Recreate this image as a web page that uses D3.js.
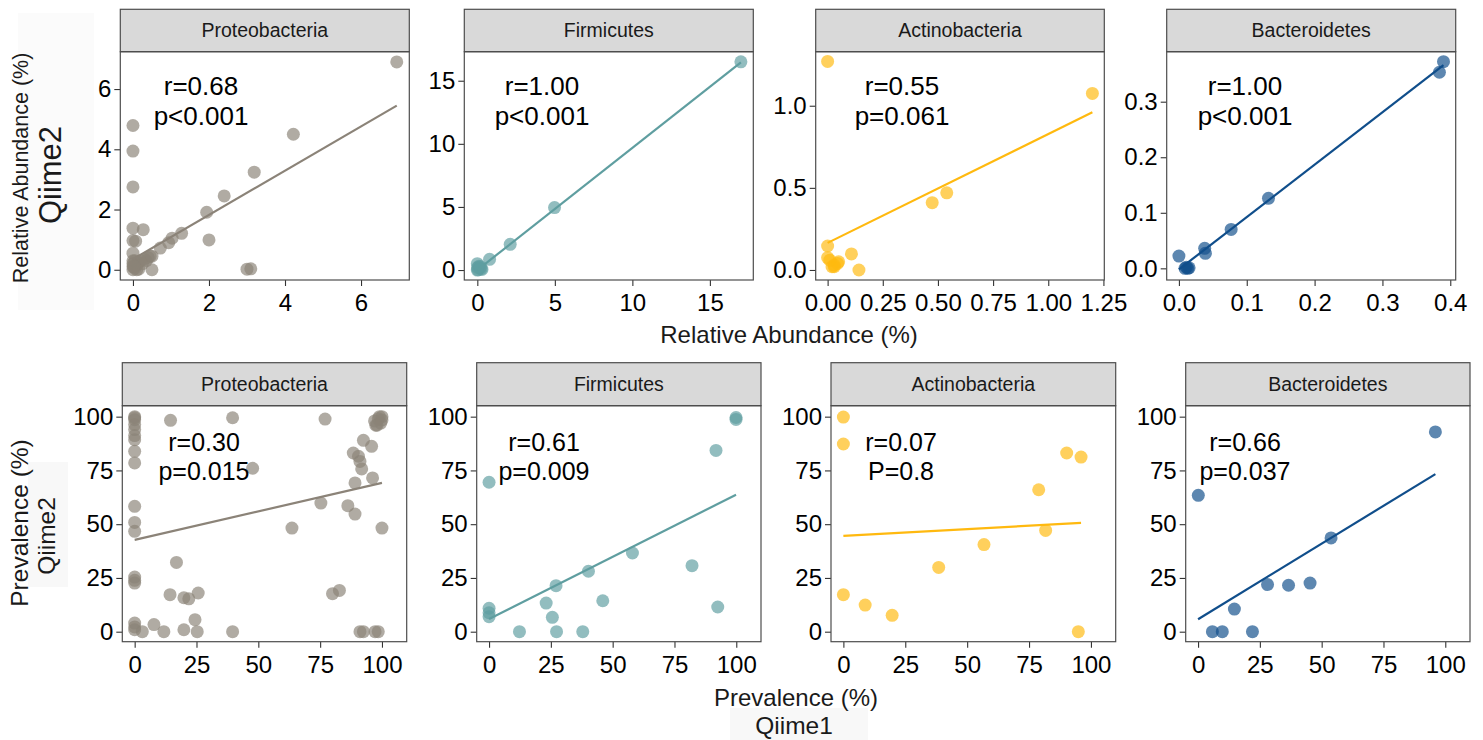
<!DOCTYPE html>
<html>
<head>
<meta charset="utf-8">
<script src="https://cdn.jsdelivr.net/npm/d3@7"></script>
<style>
  body { margin: 0; background: #fff; }
  svg { font-family: "Liberation Sans", Arial, sans-serif; }
</style>
</head>
<body>
<svg id="chart" width="1483" height="740"></svg>
<script>

var phyla = ["Proteobacteria", "Firmicutes", "Actinobacteria", "Bacteroidetes"];
var phylumColors = ["#8B8378", "#5F9EA0", "#FFB90F", "#104E8B"];

// Relative abundance (%): Qiime1 on x, Qiime2 on y
var proteoAbundX = [6.94, 4.22, 3.19, 2.4, 1.94, 2.0, 3.0, 3.1, 1.28, 1.03, 0.94, 0.72, 0.27, 0, 0, 0, 0, 0, 0.07, 0, 0.5,
  0, 0, 0, 0, 0.05, 0.1, 0.15, 0.2, 0.3, 0.4, 0.45, 0.1, 0.15, 0.05, 0.25, 0.02, 0.35, 0.5];
var proteoAbundY = [6.9, 4.5, 3.24, 2.45, 1.91, 0.99, 0.02, 0.03, 1.21, 1.05, 0.9, 0.72, 1.33, 4.79, 3.94, 2.75, 1.38, 0.97, 0.95, 0.55, 0,
  0, 0.1, 0.2, 0.3, 0.05, 0.15, 0.25, 0.3, 0.35, 0.4, 0.45, 0, 0.02, 0.3, 0.2, 0.12, 0.3, 0.45];
var firmAbundX = [17.0, 4.98, 2.12, 0.79, 0, 0.25, 0, 0.1, 0.3, 0.05, 0.15, 0.02, 0.2];
var firmAbundY = [16.5, 4.95, 2.04, 0.85, 0.5, 0.1, 0, 0.3, 0.05, 0.02, 0.15, 0.2, 0.25];
var actinoAbundX = [0, 1.2, 0.54, 0.474, 0, 0, 0.108, 0.142, 0.02, 0.03, 0.05, 0.03, 0.045, 0.01];
var actinoAbundY = [1.27, 1.075, 0.47, 0.41, 0.146, 0.075, 0.098, 0, 0.02, 0.02, 0.05, 0.03, 0.04, 0.06];
var bactAbundX = [0.39, 0.384, 0.132, 0.077, 0.038, 0.039, 0, 0.009, 0.013, 0.015, 0.011];
var bactAbundY = [0.372, 0.353, 0.126, 0.07, 0.036, 0.027, 0.022, 0, 0, 0.001, 0.002];

// fitted lines [x0, y0, x1, y1]
var abundFits = [[0, 0.35, 6.94, 5.45], [0, 0, 17.0, 16.45], [0, 0.165, 1.2, 0.96], [0, -0.002, 0.39, 0.366]];
var abundR = ["r=0.68", "r=1.00", "r=0.55", "r=1.00"];
var abundP = ["p<0.001", "p<0.001", "p=0.061", "p<0.001"];
var abundXTicks = [[0, 2, 4, 6], [0, 5, 10, 15], [0, 0.25, 0.5, 0.75, 1.0, 1.25], [0, 0.1, 0.2, 0.3, 0.4]];
var abundYTicks = [[0, 2, 4, 6], [0, 5, 10, 15], [0, 0.5, 1.0], [0, 0.1, 0.2, 0.3]];

// Prevalence (%): Qiime1 on x, Qiime2 on y
var proteoPrevX = [0, 0, 0, 0, 0, 0, 0, 0, 0, 0, 0, 0, 0, 0, 0, 0, 0, 0,
  3.1, 7.8, 11.8, 14.5, 14.3, 16.9, 19.9, 21.9, 19.9, 25.7, 24.4, 25.3, 39.6, 39.6, 47.7, 63.6, 75.3, 77,
  80, 82.8, 86.2, 88.4, 89.1, 89.1, 90.5, 91.1, 91.8, 92.5, 95.8, 96.2, 91.1, 92.5, 97.2, 98.5, 100,
  97, 98, 99, 100, 99.5, 98.5, 100, 97.5];
var proteoPrevY = [100, 98.6, 96.3, 94, 91.2, 89.3, 83.9, 78.5, 58.3, 50.8, 46.7, 25.4, 23.9, 22.6, 4.0, 2.2, 0.9, 99.5,
  0, 3.3, 0, 98.3, 17.2, 32.2, 15.8, 15.3, 0.9, 18, 5.6, 0, 0, 99.5, 76, 48.2, 59.8, 98.9,
  17.7, 19.2, 58.6, 83.1, 69.2, 54.7, 81.6, 79.2, 75.7, 89, 86.2, 71.5, 0, 0, 0, 0, 48.2,
  98, 96, 100, 100, 97, 99, 98.5, 96];
var firmPrevX = [99.9, 99.9, 91.8, 82.1, 92.5, 0, 0, 0, 0, 12.3, 23.1, 27.1, 25.6, 27.3, 37.9, 40.2, 46, 58];
var firmPrevY = [99.6, 98.7, 84.3, 30.7, 11.5, 69.5, 10.9, 7.0, 8.8, 0, 13.3, 21.4, 6.7, 0, 0, 28.1, 14.4, 36.6];
var actinoPrevX = [0, 0, 0, 8.8, 19.7, 38.5, 56.8, 78.9, 81.7, 90.2, 96, 94.9];
var actinoPrevY = [99.8, 87.3, 17.2, 12.4, 7.6, 29.9, 40.5, 66, 47.1, 83.1, 81.2, 0];
var bactPrevX = [96, 0.1, 53.8, 45.3, 36.6, 28.1, 14.7, 5.8, 9.8, 22];
var bactPrevY = [92.9, 63.4, 43.6, 22.6, 21.6, 21.9, 10.5, 0, 0, 0];

var prevFits = [[0, 42.7, 100, 69.2], [0, 5.9, 99.9, 63.7], [0, 44.6, 96, 50.6], [0, 5.8, 96, 73.3]];
var prevR = ["r=0.30", "r=0.61", "r=0.07", "r=0.66"];
var prevP = ["p=0.015", "p=0.009", "P=0.8", "p=0.037"];
var prevTicks = [0, 25, 50, 75, 100];

var svg = d3.select("#chart");

// faint boxes behind the Qiime labels
svg.append("rect").attr("x", 18).attr("y", 13).attr("width", 76).attr("height", 297).attr("fill", "#fbfbfb");
svg.append("rect").attr("x", 28).attr("y", 462).attr("width", 40).attr("height", 125).attr("fill", "#f8f8f8");
svg.append("rect").attr("x", 730).attr("y", 708).attr("width", 138).attr("height", 32).attr("fill", "#f8f8f8");

function drawPanel(p) {
  var g = svg.append("g");

  var x = d3.scaleLinear().domain(p.xDom).range([p.left, p.right]);
  var y = d3.scaleLinear().domain(p.yDom).range([p.bottom, p.top]);

  // strip
  g.append("rect")
      .attr("x", p.left)
      .attr("y", p.stripTop)
      .attr("width", p.right - p.left)
      .attr("height", p.top - p.stripTop)
      .attr("fill", "#d9d9d9")
      .attr("stroke", "#4d4d4d")
      .attr("stroke-width", 1.2);

  g.append("text")
      .attr("x", (p.left + p.right) / 2)
      .attr("y", (p.stripTop + p.top) / 2)
      .attr("dy", "0.35em")
      .attr("text-anchor", "middle")
      .attr("fill", "#1a1a1a")
      .style("font-size", "19.5px")
      .text(p.name);

  var xAxis = g.append("g")
      .attr("transform", "translate(0," + p.bottom + ")")
      .call(d3.axisBottom(x).tickValues(p.xTicks).tickFormat(p.xFmt).tickSize(6).tickSizeOuter(0).tickPadding(8));

  var yAxis = g.append("g")
      .attr("transform", "translate(" + p.left + ",0)")
      .call(d3.axisLeft(y).tickValues(p.yTicks).tickFormat(p.yFmt).tickSize(6).tickSizeOuter(0).tickPadding(3));

  [xAxis, yAxis].forEach(function(a) {
    a.select(".domain").remove();
    a.selectAll(".tick line").attr("stroke", "#333").attr("stroke-width", 1.1);
    a.selectAll(".tick text").attr("fill", "#000").style("font-size", "24px");
  });

  // points
  g.selectAll("circle")
    .data(d3.zip(p.xs, p.ys))
    .enter().append("circle")
      .attr("cx", function(d) { return x(d[0]); })
      .attr("cy", function(d) { return y(d[1]); })
      .attr("r", 6.5)
      .attr("fill", p.color)
      .attr("fill-opacity", 0.68);

  // fitted line
  g.append("line")
      .attr("x1", x(p.fit[0]))
      .attr("y1", y(p.fit[1]))
      .attr("x2", x(p.fit[2]))
      .attr("y2", y(p.fit[3]))
      .attr("stroke", p.color)
      .attr("stroke-width", 2.2);

  // panel border
  g.append("rect")
      .attr("x", p.left)
      .attr("y", p.top)
      .attr("width", p.right - p.left)
      .attr("height", p.bottom - p.top)
      .attr("fill", "none")
      .attr("stroke", "#4d4d4d")
      .attr("stroke-width", 1.2);

  // r and p text
  g.append("text")
      .attr("x", p.labelX)
      .attr("y", p.rY)
      .attr("text-anchor", "middle")
      .attr("fill", "#000")
      .style("font-size", p.labelSize + "px")
      .text(p.r);

  g.append("text")
      .attr("x", p.labelX)
      .attr("y", p.pY)
      .attr("text-anchor", "middle")
      .attr("fill", "#000")
      .style("font-size", p.labelSize + "px")
      .text(p.p);
}

var fmtInt = d3.format("d");
var topLayout = [
  {left: 120.3, right: 409.3, xDom: [-0.333, 7.27], yDom: [-0.34, 7.24], labelX: 201, xFmt: fmtInt, yFmt: fmtInt},
  {left: 464.3, right: 753.3, xDom: [-0.84, 17.8], yDom: [-0.79, 17.3], labelX: 542, xFmt: fmtInt, yFmt: fmtInt},
  {left: 815.7, right: 1104.3, xDom: [-0.054, 1.254], yDom: [-0.061, 1.329], labelX: 902, xFmt: d3.format(".2f"), yFmt: d3.format(".1f")},
  {left: 1166.7, right: 1455.7, xDom: [-0.018, 0.408], yDom: [-0.021, 0.39], labelX: 1245, xFmt: d3.format(".1f"), yFmt: d3.format(".1f")}
];
var topXs = [proteoAbundX, firmAbundX, actinoAbundX, bactAbundX];
var topYs = [proteoAbundY, firmAbundY, actinoAbundY, bactAbundY];

topLayout.forEach(function(l, i) {
  drawPanel({
    name: phyla[i], color: phylumColors[i],
    left: l.left, right: l.right, stripTop: 9.3, top: 51.7, bottom: 280,
    xDom: l.xDom, yDom: l.yDom, xTicks: abundXTicks[i], yTicks: abundYTicks[i],
    xFmt: l.xFmt, yFmt: l.yFmt,
    xs: topXs[i], ys: topYs[i], fit: abundFits[i],
    r: abundR[i], p: abundP[i], labelX: l.labelX, rY: 95, pY: 125, labelSize: 26
  });
});

var bottomLayout = [
  {left: 122.3, right: 406.7, labelX: 204},
  {left: 476.7, right: 761, labelX: 544},
  {left: 831, right: 1115.7, labelX: 901},
  {left: 1185.7, right: 1470, labelX: 1245}
];
var bottomXs = [proteoPrevX, firmPrevX, actinoPrevX, bactPrevX];
var bottomYs = [proteoPrevY, firmPrevY, actinoPrevY, bactPrevY];

bottomLayout.forEach(function(l, i) {
  drawPanel({
    name: phyla[i], color: phylumColors[i],
    left: l.left, right: l.right, stripTop: 362.7, top: 405.7, bottom: 641.7,
    xDom: [-5, 110], yDom: [-4.65, 105.1], xTicks: prevTicks, yTicks: prevTicks,
    xFmt: fmtInt, yFmt: fmtInt,
    xs: bottomXs[i], ys: bottomYs[i], fit: prevFits[i],
    r: prevR[i], p: prevP[i], labelX: l.labelX, rY: 451, pY: 480, labelSize: 25
  });
});

// axis titles
function title(txt, x, y, size, rotate) {
  svg.append("text")
      .attr("transform", "translate(" + x + "," + y + ")" + (rotate ? " rotate(-90)" : ""))
      .attr("text-anchor", "middle")
      .attr("fill", "#1a1a1a")
      .style("font-size", size + "px")
      .text(txt);
}

title("Relative Abundance (%)", 789, 343, 24, false);
title("Prevalence (%)", 796, 706, 24, false);
title("Qiime1", 794, 734, 24.5, false);
title("Relative Abundance (%)", 28, 168, 21.5, true);
title("Qiime2", 61, 175, 31, true);
title("Prevalence (%)", 28, 523, 24.5, true);
title("Qiime2", 55, 536, 24.5, true);

</script>
</body>
</html>
